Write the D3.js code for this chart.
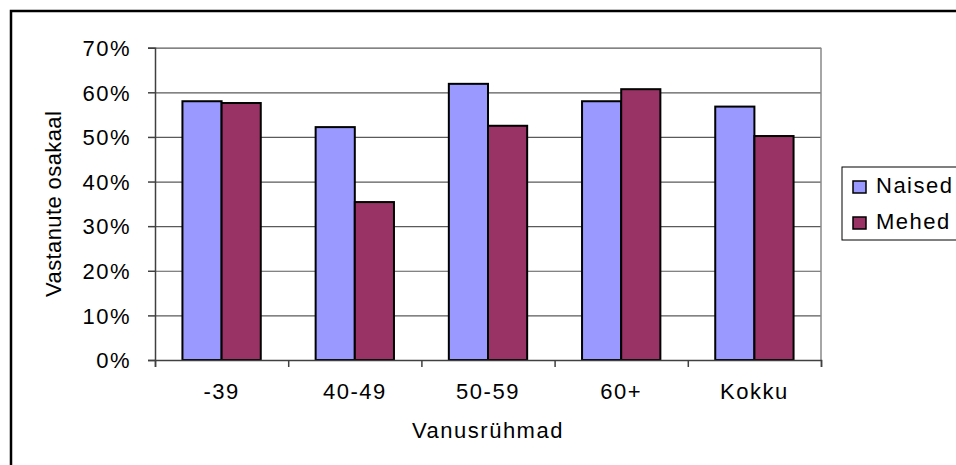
<!DOCTYPE html>
<html>
<head>
<meta charset="utf-8">
<script src="https://cdn.jsdelivr.net/npm/d3@7"></script>
<style>
  body { margin: 0; background: #fff; }
  svg text { font-family: "Liberation Sans", Arial, sans-serif; font-size: 22px; letter-spacing: 1.5px; fill: #000; }
</style>
</head>
<body>
<svg id="chart" width="956" height="465"></svg>
<script>
"use strict";

// values
var categories = ['-39', '40-49', '50-59', '60+', 'Kokku'];
var series = ['Naised', 'Mehed'];
var naised = [0.580, 0.522, 0.619, 0.580, 0.568];
var mehed = [0.576, 0.354, 0.525, 0.607, 0.502];
var y_ticks = [0, 0.1, 0.2, 0.3, 0.4, 0.5, 0.6, 0.7];
var colors = ['#9999ff', '#993366'];

var svg = d3.select('#chart');
const plot = {left: 155, top: 47.7, right: 821, bottom: 360};
const w = plot.right - plot.left;
const h = plot.bottom - plot.top;

// outer chart border (runs off the right and bottom edges)
svg.append('rect')
    .attr('x', 11).attr('y', 11)
    .attr('width', 1000).attr('height', 460)
    .attr('fill', 'none')
    .attr('stroke', '#000')
    .attr('stroke-width', 2.5);

var g = svg.append('g').attr('transform', 'translate(' + plot.left + ',' + plot.top + ')');

var y = d3.scaleLinear().domain([0, 0.7]).range([h, 0]);
var x0 = d3.scaleBand().domain(categories).range([0, w]).padding(0);
var group_w = x0.bandwidth() * 0.588;
var x1 = d3.scaleBand().domain(series).range([0, group_w]).padding(0);

// gridlines
g.append('g').attr('class', 'grid')
    .call(d3.axisLeft(y).tickValues(y_ticks).tickSize(-w).tickFormat(''))
    .call(s => s.select('.domain').remove())
    .selectAll('line')
        .attr('stroke', '#5a5a5a')
        .attr('stroke-width', 1.2);

// right border of the plot area
g.append('line')
    .attr('x1', w).attr('x2', w)
    .attr('y1', 0).attr('y2', h)
    .attr('stroke', '#888')
    .attr('stroke-width', 1.5);

// bars
var rows = categories.map((c, i) => ({cat: c, vals: [naised[i], mehed[i]]}));
var groups = g.selectAll('.grp')
    .data(rows).enter()
    .append('g')
        .attr('class', 'grp')
        .attr('transform', d => 'translate(' + (x0(d.cat) + (x0.bandwidth() - group_w) / 2) + ',0)');

groups.selectAll('rect')
    .data(d => d.vals.map((v, j) => ({s: series[j], v: v, j: j})))
    .enter().append('rect')
        .attr('x', d => x1(d.s))
        .attr('y', d => y(d.v))
        .attr('width', x1.bandwidth())
        .attr('height', d => h - y(d.v))
        .attr('fill', d => colors[d.j])
        .attr('stroke', '#000')
        .attr('stroke-width', 2);

// y axis
var axis_y = g.append('g')
    .call(d3.axisLeft(y).tickValues(y_ticks).tickSize(7).tickPadding(17)
        .tickFormat(d3.format('.0%')));
axis_y.select('.domain').attr('stroke', '#404040').attr('stroke-width', 1.5);
axis_y.selectAll('.tick line').attr('stroke', '#404040').attr('stroke-width', 1.5);
axis_y.selectAll('.tick text')
    .attr('dy', '0.35em')
    .style('font-size', '22px')
    .style('font-family', '"Liberation Sans", Arial, sans-serif');

// x axis: tick marks between categories
var xb = d3.scaleLinear().domain([0, categories.length]).range([0, w]);
var axis_x = g.append('g')
    .attr('transform', 'translate(0,' + h + ')')
    .call(d3.axisBottom(xb).tickValues(d3.range(categories.length + 1)).tickSize(7).tickFormat(''));
axis_x.select('.domain').attr('stroke', '#404040').attr('stroke-width', 1.5);
axis_x.selectAll('.tick line').attr('stroke', '#404040').attr('stroke-width', 1.5);

// x axis labels at category centres
var labels_x = g.append('g')
    .attr('transform', 'translate(0,' + h + ')')
    .call(d3.axisBottom(x0).tickSize(0));
labels_x.select('.domain').remove();
labels_x.selectAll('.tick text')
    .attr('y', 39)
    .attr('dy', 0)
    .style('font-size', '22px')
    .style('font-family', '"Liberation Sans", Arial, sans-serif');

// axis titles
svg.append('text')
    .attr('x', (plot.left + plot.right) / 2)
    .attr('y', 438)
    .attr('text-anchor', 'middle')
    .text('Vanusrühmad');

svg.append('text')
    .attr('transform', 'translate(61,' + ((plot.top + plot.bottom) / 2) + ') rotate(-90)')
    .attr('text-anchor', 'middle')
    .style('letter-spacing', '0.4px')
    .text('Vastanute osakaal');

// legend
var legend = svg.append('g').attr('transform', 'translate(842,167)');
legend.append('rect')
    .attr('width', 140).attr('height', 73)
    .attr('fill', '#fff')
    .attr('stroke', '#000')
    .attr('stroke-width', 1);
var items = legend.selectAll('.item')
    .data(series).enter()
    .append('g')
        .attr('class', 'item')
        .attr('transform', (d, i) => 'translate(11,' + (14 + i * 36) + ')');
items.append('rect')
    .attr('width', 13).attr('height', 12)
    .attr('fill', (d, i) => colors[i])
    .attr('stroke', '#000')
    .attr('stroke-width', 1.5);
items.append('text')
    .attr('x', 23)
    .attr('y', 12)
    .text(d => d);
</script>
</body>
</html>
